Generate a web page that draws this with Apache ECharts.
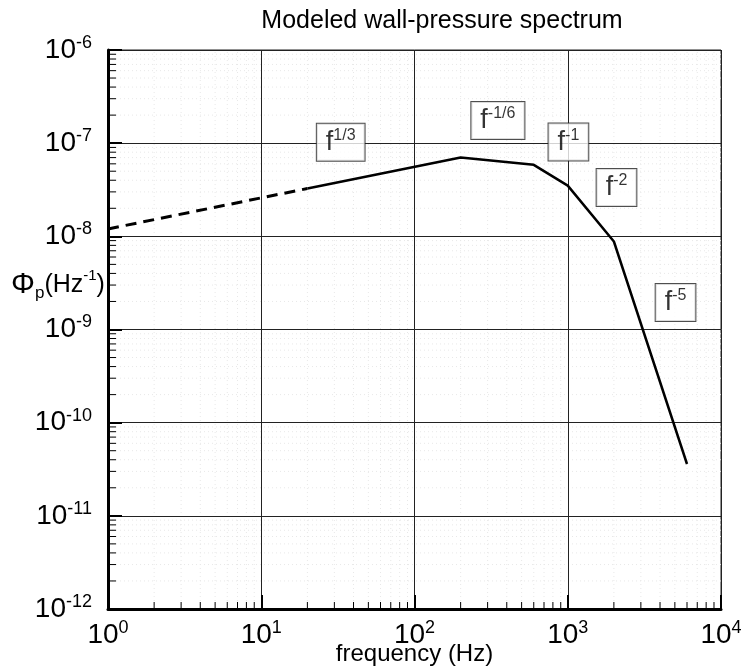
<!DOCTYPE html>
<html>
<head>
<meta charset="utf-8">
<script src="https://cdn.jsdelivr.net/npm/echarts@6/dist/echarts.min.js"></script>
<style>
  html, body { margin: 0; padding: 0; background: #fff; }
  #chart { width: 742px; height: 671px; }
</style>
</head>
<body>
<div id="chart"></div>
<script>
// modeled spectrum
var dashFreq = [1, 20];
var dashPsd = [1.2e-8, 3.26e-8];
var solidFreq = [20, 200, 600, 1000, 2000, 6000];
var solidPsd = [3.26e-8, 7.0e-8, 5.85e-8, 3.5e-8, 8.8e-9, 3.6e-11];

// slope annotations
var slopeText = ['1/3', '-1/6', '-1', '-2', '-5'];
var slopeFreq = [33, 350, 1010, 2080, 5050];
var slopePsd = [1.02e-7, 1.75e-7, 1.03e-7, 3.35e-8, 1.95e-9];

var xMin = 1, xMax = 1e4;
var yMin = 1e-12, yMax = 1e-6;

// minor ticks 2..9 in every decade
var xMinor = [];
for (var d = 0; d < 4; d++) for (var k = 2; k <= 9; k++) xMinor.push(k * Math.pow(10, d));
var yMinor = [];
for (var e = -12; e < -6; e++) for (var m = 2; m <= 9; m++) yMinor.push(m * Math.pow(10, e));

var font = 'Liberation Sans, Arial, sans-serif';

function powLabel(v) {
  return '{b|10}{s|' + Math.round(Math.log10(v)) + '}';
}
var powRich = {
  b: { fontSize: 28, lineHeight: 32, fontFamily: font, color: '#000' },
  s: { fontSize: 18, lineHeight: 20, fontFamily: font, color: '#000', verticalAlign: 'top' }
};

var chart = echarts.init(document.getElementById('chart'));

function minorItem(isX) {
  return function (params, api) {
    var v = api.value(isX ? 0 : 1);
    var a, b, t;
    if (isX) {
      a = api.coord([v, yMin]); b = api.coord([v, yMax]);
      t = [a[0], a[1] - 7];
    } else {
      a = api.coord([xMin, v]); b = api.coord([xMax, v]);
      t = [a[0] + 8, a[1]];
    }
    return {
      type: 'group',
      children: [
        { type: 'line', shape: { x1: a[0], y1: a[1], x2: b[0], y2: b[1] },
          style: { stroke: '#e8e8e8', lineWidth: 1, lineDash: [1, 3] } },
        { type: 'line', shape: { x1: a[0], y1: a[1], x2: t[0], y2: t[1] },
          style: { stroke: '#000', lineWidth: 1 } }
      ]
    };
  };
}

chart.setOption({
  animation: false,
  title: {
    text: 'Modeled wall-pressure spectrum',
    left: 437,
    textAlign: 'center',
    top: 4,
    textStyle: { fontSize: 25, fontWeight: 'normal', color: '#000', fontFamily: font }
  },
  grid: {
    left: 108, right: 21, top: 50, bottom: 62,
    outerBoundsMode: 'none',
    containLabel: false,
    show: true, borderColor: '#222', borderWidth: 1
  },
  graphic: [{
    type: 'text',
    left: 11,
    top: 268,
    style: {
      text: '{p|Φ}{sub|p}{t|(Hz}{sup|-1}{t|)}',
      rich: {
        p: { fontSize: 30, lineHeight: 34, fontFamily: font, color: '#000' },
        sub: { fontSize: 17, lineHeight: 22, fontFamily: font, color: '#000', verticalAlign: 'bottom' },
        t: { fontSize: 25, lineHeight: 34, fontFamily: font, color: '#000' },
        sup: { fontSize: 15, lineHeight: 18, fontFamily: font, color: '#000', verticalAlign: 'top' }
      }
    }
  }],
  xAxis: {
    type: 'log',
    logBase: 10,
    min: xMin,
    max: xMax,
    interval: 1,
    z: 2,
    name: 'frequency (Hz)',
    nameLocation: 'middle',
    nameGap: 33,
    nameMoveOverlap: false,
    nameTextStyle: { fontSize: 24, color: '#000', fontFamily: font },
    axisLine: { lineStyle: { color: '#000', width: 3 } },
    axisTick: { inside: true, length: 14, lineStyle: { color: '#000', width: 2 } },
    axisLabel: { margin: 10, formatter: powLabel, rich: powRich },
    splitLine: { show: true, lineStyle: { color: '#222', width: 1 } }
  },
  yAxis: {
    type: 'log',
    logBase: 10,
    min: yMin,
    max: yMax,
    interval: 1,
    z: 2,
    axisLine: { lineStyle: { color: '#000', width: 3 } },
    axisTick: { inside: true, length: 14, lineStyle: { color: '#000', width: 2 } },
    axisLabel: { margin: 16, formatter: powLabel, rich: powRich },
    splitLine: { show: true, lineStyle: { color: '#222', width: 1 } }
  },
  series: [
    {
      type: 'custom',
      z: 1,
      silent: true,
      renderItem: minorItem(true),
      data: xMinor.map(function (v) { return [v, yMin]; })
    },
    {
      type: 'custom',
      z: 1,
      silent: true,
      renderItem: minorItem(false),
      data: yMinor.map(function (v) { return [xMin, v]; })
    },
    {
      type: 'line',
      z: 3,
      symbol: 'none',
      lineStyle: { color: '#000', width: 3, type: [11, 7] },
      data: dashFreq.map(function (f, i) { return [f, dashPsd[i]]; })
    },
    {
      type: 'line',
      z: 3,
      symbol: 'none',
      lineStyle: { color: '#000', width: 2.5 },
      data: solidFreq.map(function (f, i) { return [f, solidPsd[i]]; })
    },
    {
      type: 'scatter',
      z: 5,
      symbolSize: 1,
      itemStyle: { color: 'rgba(0,0,0,0)' },
      label: {
        show: true,
        position: 'inside',
        formatter: function (p) { return '{f|f}{s|' + slopeText[p.dataIndex] + '}'; },
        backgroundColor: '#fff',
        borderColor: '#222',
        borderWidth: 1,
        padding: [4, 9, 3, 9],
        rich: {
          f: { fontSize: 27, lineHeight: 30, fontFamily: font, color: '#000' },
          s: { fontSize: 16, lineHeight: 18, fontFamily: font, color: '#000', verticalAlign: 'top' }
        }
      },
      data: slopeFreq.map(function (f, i) { return [f, slopePsd[i]]; })
    }
  ]
});
</script>
</body>
</html>
